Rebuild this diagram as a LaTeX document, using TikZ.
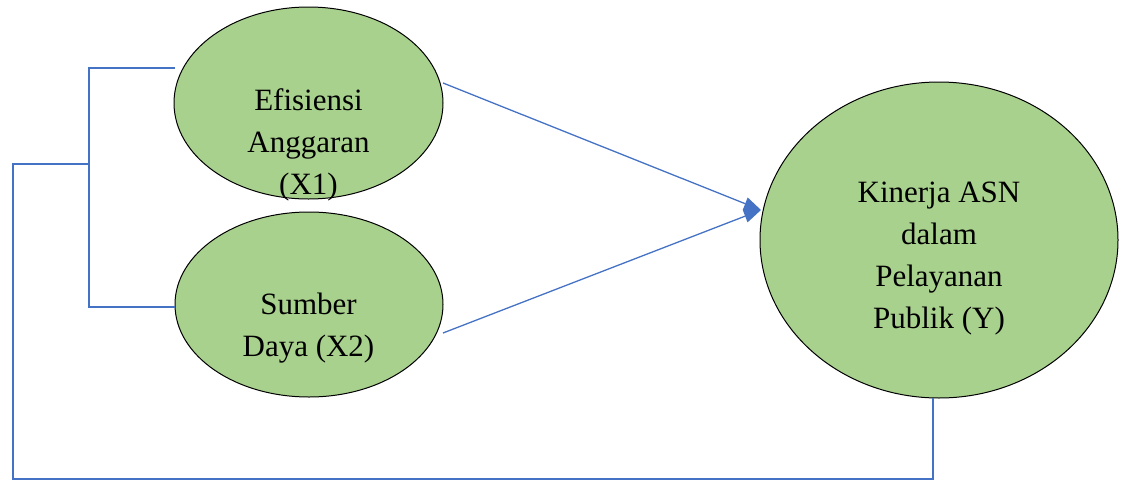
\documentclass[tikz,border=0pt]{standalone}
\usepackage{fontspec}
\setmainfont{Liberation Serif}
\usepackage{xcolor}
\usetikzlibrary{shapes.geometric,arrows.meta}
\definecolor{latentgreen}{RGB}{169,209,142}
\definecolor{pathblue}{RGB}{68,114,196}
\tikzset{
  latent/.style={ellipse, draw=black, line width=1pt, fill=latentgreen, inner sep=0pt},
  label text/.style={align=center, font=\fontsize{31}{42}\selectfont},
  path line/.style={pathblue, line width=1.3pt},
}

\begin{document}
\begin{tikzpicture}[x=1pt, y=-1pt]
\useasboundingbox (0,0) rectangle (1125,482);
\newcommand{\brackx}{89}
\newcommand{\outx}{13}
\newcommand{\lowy}{479}
% ellipses
\node[latent, minimum width=269pt, minimum height=192pt] (x1) at (308.5,103) {};
\node[latent, minimum width=268pt, minimum height=185pt] (x2) at (309,304.5) {};
\node[latent, minimum width=358pt, minimum height=316pt] (y) at (939,240) {};
\node[label text] (x1txt) at (308.5,145) {Efisiensi\\Anggaran\\(X1)};
\node[label text] (x2txt) at (308.5,328) {Sumber\\Daya (X2)};
\node[label text] (ytxt) at (939,259) {Kinerja ASN\\dalam\\Pelayanan\\Publik (Y)};
% bracket on the left
\coordinate (t1) at (175,68);
\coordinate (t2) at (175,307);
\coordinate (mid) at (\brackx,164);
\coordinate (yb) at (933,398);
\begin{scope}[path line]
  \draw (t1) -- (\brackx,68) -- (\brackx,307) -- (t2);
  \draw (mid) -- (\outx,164) -- (\outx,\lowy) -- (yb |- 0,\lowy) -- (yb);
\end{scope}
% paths to Y
\coordinate (s1) at (443,83);
\coordinate (s2) at (443,333);
\coordinate (tip) at (761,210);
\draw[path line, -{Triangle[length=17pt, width=13pt]}] (s1) -- (tip);
\draw[path line, -{Triangle[length=17pt, width=13pt]}] (s2) -- (tip);
\end{tikzpicture}
\end{document}
